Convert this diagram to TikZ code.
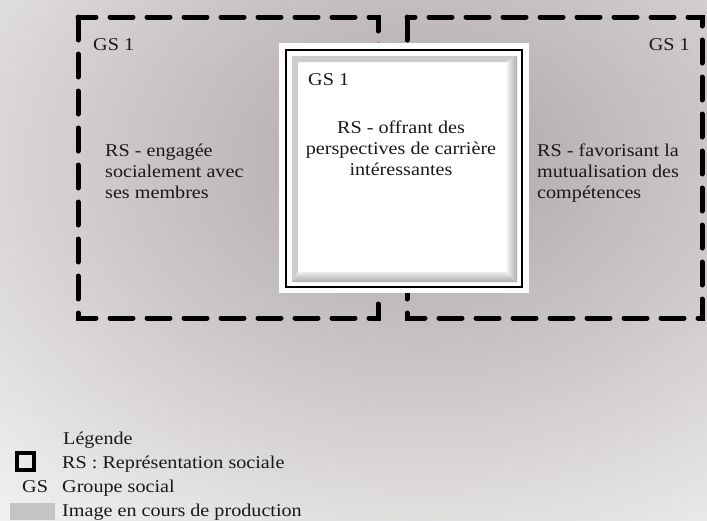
\documentclass[tikz,border=0pt]{standalone}
\usepackage{fontspec}
\setmainfont[FakeStretch=1.12]{Liberation Serif}
\usepackage{xcolor}
\usepackage{tikz}
\usetikzlibrary{positioning}
\definecolor{fog}{RGB}{172,164,164}
\definecolor{swatch}{RGB}{196,196,196}

\begin{document}
\begin{tikzpicture}[
  x=1pt, y=-1pt,
  group/.style={draw, line width=5pt, dash pattern=on 23pt off 14pt, line cap=round},
  txt/.style={inner sep=0pt, text=black!90, font=\fontsize{18}{21}\selectfont},
  bevel/.style={fill=gray!40}
]
  \useasboundingbox (0,0) rectangle (707,520);

  % ===== background =====
  \shade[inner color=fog, outer color=white] (420,160) ellipse (760 and 560);

  % ===== social groups =====
  \draw[group] (78,17) rectangle (378,318);
  \draw[group] (407,17) rectangle (702,318);

  % ===== central RS box =====
  \fill[white] (279,43) rectangle (529,293);
  \draw[line width=1.6pt] (286,50) rectangle (522,287);
  \fill[bevel] (292,56) -- (298,62) -- (298,272) -- (292,282) -- cycle;
  \fill[bevel] (292,56) -- (517,56) -- (507,62) -- (298,62) -- cycle;
  \shade[left color=gray!10, right color=gray!65] (517,56) -- (517,282) -- (507,272) -- (507,62) -- cycle;
  \shade[top color=gray!15, bottom color=gray!65] (292,282) -- (517,282) -- (507,272) -- (298,272) -- cycle;

  \node[txt, anchor=base west] (gsL) at (93,50) {GS 1};
  \node[txt, anchor=base east] (gsR) at (690,50) {GS 1};
  \node[txt, anchor=base west] (gsC) at (308,85) {GS 1};

  \node[txt, anchor=north west, align=left] (rsL) at (105,143.5)
    {RS - engagée\\socialement avec\\ses membres};
  \node[txt, anchor=north, align=center] (rsC) at (401,120.5)
    {RS - offrant des\\perspectives de carrière\\intéressantes};
  \node[txt, anchor=north west, align=left] (rsR) at (537,143.5)
    {RS - favorisant la\\mutualisation des\\compétences};

  % ===== legend =====
  \node[txt, anchor=base west] (leg) at (63,444) {Légende};
  \node[draw, line width=4pt, minimum size=17pt, inner sep=0pt] (rsIcon) at (25,461.5) {};
  \node[txt, anchor=base west] (rsTxt) at (62,468) {RS : Représentation sociale};
  \node[txt, anchor=base west] (gsAbbr) at (22,492) {GS};
  \node[txt, anchor=base west] (gsTxt) at (62,492) {Groupe social};
  \node[fill=swatch, minimum width=45pt, minimum height=17pt, inner sep=0pt] (imgIcon) at (32.5,511.5) {};
  \node[txt, anchor=base west] (imgTxt) at (62,516) {Image en cours de production};
\end{tikzpicture}
\end{document}
